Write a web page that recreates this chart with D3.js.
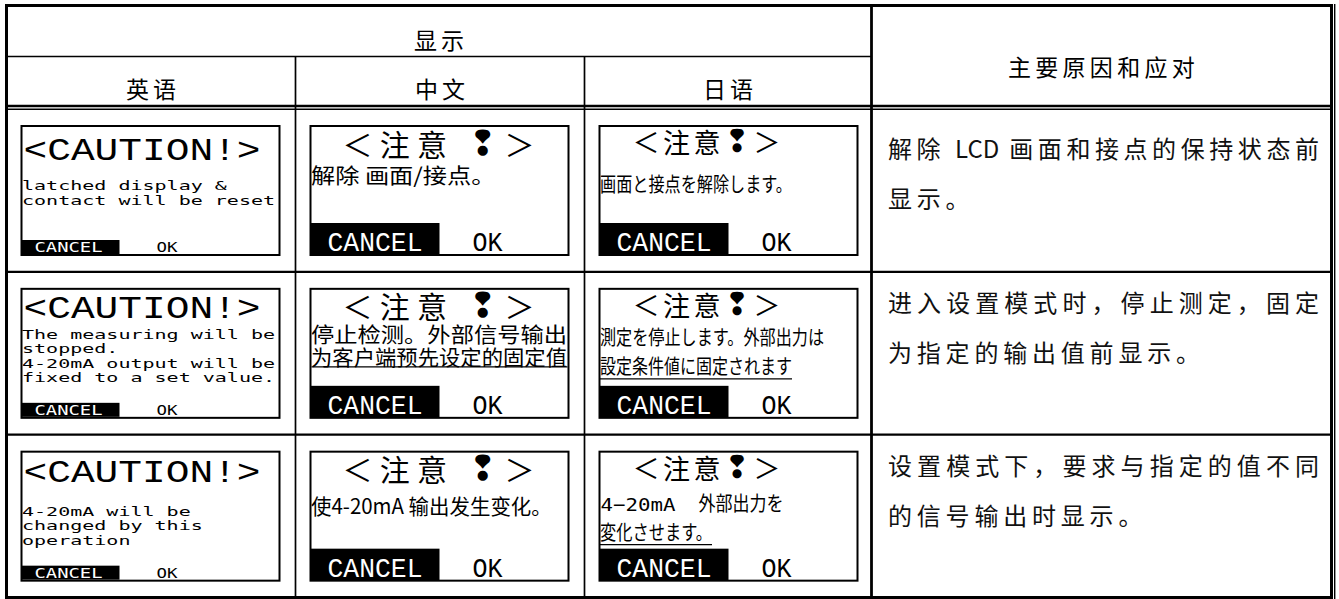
<!DOCTYPE html>
<html><head><meta charset="utf-8">
<script src="https://cdn.jsdelivr.net/npm/d3@7"></script>
<style>html,body{margin:0;padding:0;background:#fff;overflow:hidden} text{white-space:pre}</style>
</head><body><svg id="c" width="1339" height="599"></svg>
<script>
// ---------- data ----------
const displayHeader = "显示";
const languages = ["英语", "中文", "日语"];
const causeHeader = "主要原因和应对";
const titleEn = "<CAUTION!>";
const titleZh = ["＜注意 ", "❢", "＞"];
const titleJa = ["＜注意", "❢", "＞"];
const buttonLabels = ["CANCEL", "OK"];
const enMessages = [
  ["latched display &", "contact will be reset"],
  ["The measuring will be", "stopped.", "4-20mA output will be", "fixed to a set value."],
  ["4-20mA will be", "changed by this", "operation"]
];
const zhMessages = [
  ["解除 画面/接点。"],
  ["停止检测。外部信号输出", "为客户端预先设定的固定值"],
  ["使4-20mA 输出发生变化。"]
];
const jaMessages = [
  ["画面と接点を解除します。"],
  ["測定を停止します。外部出力は", "設定条件値に固定されます"],
  ["4−20mA 外部出力を", "変化させます。"]
];
const causes = [
  ["解除 LCD 画面和接点的保持状态前", "显示。"],
  ["进入设置模式时，停止测定，固定", "为指定的输出值前显示。"],
  ["设置模式下，要求与指定的值不同", "的信号输出时显示。"]
];

// ---------- layout ----------
const MONO = "'DejaVu Sans Mono', monospace";
const LMONO = "'Liberation Mono', 'DejaVu Sans Mono', monospace";
const SC = "'Noto Sans CJK SC', sans-serif";
const JP = "'Noto Sans CJK JP', sans-serif";
const enTitleBase = [35, 30, 31];
const enFirstBase = [65, 51, 65];
const zhFirst = [48.5, 45, 54];
const jaFirst = [58, 49, 52];
const causeFirst = [37.5, 29, 29.5];
const zhUnderline = [false, true, false];
const jaUnderline = [false, true, true];

const svg = d3.select("#c");
svg.append("rect").attr("width", 1339).attr("height", 599).attr("fill", "#fff");

const colKeys = ["en", "zh", "ja", "cause", "end"];
const x = d3.scaleOrdinal().domain(colKeys).range([6.5, 295.5, 584.5, 871.5, 1331.5]);
const yHead = d3.scaleOrdinal().domain(["top", "mid", "bottom"]).range([5.5, 56.5, 106]);
const yBody = d3.scaleBand().domain(d3.range(3)).range([109, 597.5]);

// ---------- grid ----------
const grid = svg.append("g").attr("stroke", "#000").attr("fill", "none");
function ln(x1, y1, x2, y2, w) {
  grid.append("line").attr("x1", x1).attr("y1", y1).attr("x2", x2).attr("y2", y2).attr("stroke-width", w);
}
ln(x("en"), 4, x("en"), 599, 3);
ln(5, yHead("top"), 1333, yHead("top"), 3);
ln(5, 597.5, 1333, 597.5, 3);
ln(x("end"), 4, x("end"), 599, 3);
ln(x("end") + 3.2, 4, x("end") + 3.2, 599, 1.4);
ln(x("en"), yHead("mid"), x("cause"), yHead("mid"), 1.6);
ln(x("en"), yHead("bottom"), x("end"), yHead("bottom"), 2.4);
ln(x("en"), yHead("bottom") + 3.2, x("end"), yHead("bottom") + 3.2, 1.4);
ln(x("zh"), yHead("mid"), x("zh"), 597.5, 1.7);
ln(x("ja"), yHead("mid"), x("ja"), 597.5, 1.7);
ln(x("cause"), 4, x("cause"), 599, 2.8);
[1, 2].forEach(i => ln(x("en"), yBody(i), x("end"), yBody(i), 2.4));

// ---------- headers ----------
function ctext(txt, cx, cy, size, ls) {
  return svg.append("text").attr("x", cx).attr("y", cy)
    .attr("text-anchor", "middle").attr("dominant-baseline", "central")
    .attr("font-family", SC).attr("font-size", size)
    .attr("letter-spacing", ls || 0).attr("fill", "#000").text(txt);
}
ctext(displayHeader, (x("en") + x("cause")) / 2 + 2, 39, 23, 4);
languages.forEach((l, i) => ctext(l, (x(colKeys[i]) + x(colKeys[i + 1])) / 2 + 2, 87.5, 23, 4));
ctext(causeHeader, (x("cause") + x("end")) / 2 + 2, 66, 23, 4.3);

// ---------- LCD screens ----------
const BW = 260, BH = 131;
function box(bl, bt) {
  svg.append("rect").attr("x", bl + 1).attr("y", bt + 1).attr("width", BW - 2).attr("height", BH - 2)
    .attr("fill", "#fff").attr("stroke", "#000").attr("stroke-width", 2);
}
function t(txt, tx, ty, size, fam, len, col, base) {
  const e = svg.append("text").attr("x", tx).attr("y", ty)
    .attr("font-family", fam).attr("font-size", size).attr("fill", col || "#000")
    .attr("dominant-baseline", base || "alphabetic").text(txt);
  if (len) e.attr("textLength", len).attr("lengthAdjust", "spacingAndGlyphs");
  return e;
}
function cjkTitle(parts, tx, ty, size, len) {
  const e = svg.append("text").attr("x", tx).attr("y", ty).attr("dominant-baseline", "central")
    .attr("font-family", SC).attr("font-size", size).attr("fill", "#000")
    .attr("textLength", len).attr("lengthAdjust", "spacing");
  e.append("tspan").text(parts[0]);
  e.append("tspan").attr("font-family", "'DejaVu Sans', sans-serif").attr("font-weight", "bold")
    .attr("font-size", size * 1.15).text(parts[1]);
  e.append("tspan").text(parts[2]);
}
// LCD cell widths: CJK full cell, space and slash wide, alphanumerics narrow
function cells(s) {
  let n = 0;
  for (const ch of s) n += /[A-Za-z0-9\-]/.test(ch) ? 0.35 : (/[\x00-\x7F]/.test(ch) ? 0.6 : 1);
  return n;
}
function buttons(bl, bb) {
  svg.append("rect").attr("x", bl + 1).attr("y", bb - 33).attr("width", 129).attr("height", 32).attr("fill", "#000");
  t(buttonLabels[0], bl + 18, bb - 5, 27, LMONO, 95, "#fff");
  t(buttonLabels[1], bl + 163, bb - 5, 27, LMONO, 30);
}

for (let i = 0; i < 3; i++) {
  const bt = yBody(i) + 16, bb = bt + BH;

  // English
  let bl = x("en") + 14;
  box(bl, bt);
  t(titleEn, bl + 3, bt + enTitleBase[i], 31, LMONO, 237);
  enMessages[i].forEach((s, j) => t(s, bl + 1.5, bt + enFirstBase[i] + j * 14.5, 12.6, MONO, s.length * 12.05));
  svg.append("rect").attr("x", bl + 1).attr("y", bb - 16).attr("width", 98).attr("height", 14).attr("fill", "#000");
  t(buttonLabels[0], bl + 14, bb - 4, 14, MONO, 68, "#fff");
  t(buttonLabels[1], bl + 136, bb - 4, 14, MONO, 21);

  // Chinese
  bl = x("zh") + 14;
  box(bl, bt);
  cjkTitle(titleZh, bl + 33, bt + 17.5, 30, 192);
  zhMessages[i].forEach((s, j, arr) => {
    const w = (j < arr.length - 1) ? 256 : Math.min(256, cells(s) * 22.5);
    const cy = bt + zhFirst[i] + j * 23;
    t(s, bl + 1.5, cy, 21, SC, w, "#000", "central");
    if (zhUnderline[i] && j === arr.length - 1) {
      svg.append("line").attr("x1", bl + 2).attr("x2", bl + 2 + w)
        .attr("y1", cy + 11).attr("y2", cy + 11).attr("stroke", "#000").attr("stroke-width", 1.3);
    }
  });
  buttons(bl, bb);

  // Japanese
  bl = x("ja") + 14;
  box(bl, bt);
  cjkTitle(titleJa, bl + 34, bt + 16, 27, 148);
  jaMessages[i].forEach((s, j, arr) => {
    const cy = bt + jaFirst[i] + j * 29;
    const m = s.match(/^([0-9A-Za-z−\-]+)\s+(.*)$/);
    let endX;
    if (m) {
      t(m[1], bl + 2, cy + 8, 18, MONO, m[1].length * 12.5);
      const sx = bl + 2 + m[1].length * 12.5 + 23;
      t(m[2], sx, cy, 20, JP, m[2].length * 17, "#000", "central");
      endX = sx + m[2].length * 17;
    } else {
      t(s, bl + 1.5, cy, 20, JP, s.length * 16, "#000", "central");
      endX = bl + 1.5 + s.length * 16;
    }
    if (jaUnderline[i] && j === arr.length - 1) {
      svg.append("line").attr("x1", bl + 1).attr("x2", endX)
        .attr("y1", cy + 13).attr("y2", cy + 13).attr("stroke", "#000").attr("stroke-width", 1.3);
    }
  });
  buttons(bl, bb);

  // Cause column
  const cx0 = x("cause") + 16.5;
  causes[i].forEach((s, j, arr) => {
    const e = svg.append("text").attr("x", cx0).attr("y", yBody(i) + causeFirst[i] + j * 50)
      .attr("dominant-baseline", "central").attr("font-family", SC).attr("font-size", 24)
      .attr("fill", "#111");
    const runs = s.match(/[A-Za-z0-9]+|[^A-Za-z0-9]+/g);
    const isWide = r => !/[A-Za-z0-9]/.test(r);
    const spans = runs.map(r => e.append("tspan").attr("data-w", isWide(r) ? 1 : 0).text(r));
    let ls = 4.8;
    if (j < arr.length - 1) {
      const natural = e.node().getComputedTextLength();
      let n = 0;
      runs.forEach(r => { if (isWide(r)) n += [...r].length; });
      ls = (431 - natural) / (n - 1);
    }
    spans.forEach(sp => { if (sp.attr("data-w") === "1") sp.attr("letter-spacing", ls); });
  });
}
</script></body></html>
